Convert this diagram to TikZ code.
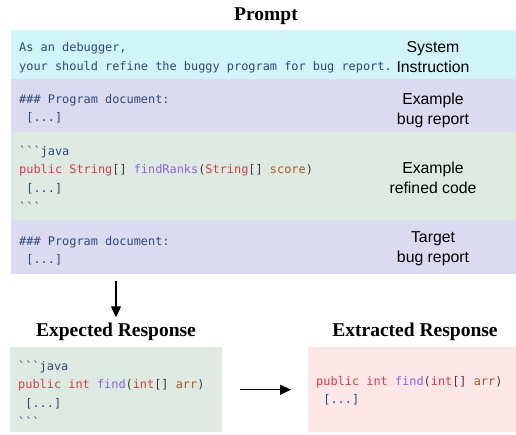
\documentclass[tikz,border=0pt]{standalone}
\usepackage{fontspec}
\setmainfont{Liberation Serif}
\setsansfont{Liberation Sans}
\setmonofont{DejaVu Sans Mono}
\usetikzlibrary{positioning,arrows.meta}

\definecolor{sysfill}{RGB}{208,244,247}
\definecolor{docfill}{RGB}{220,218,240}
\definecolor{codefill}{RGB}{222,234,225}
\definecolor{outfill}{RGB}{253,230,230}
\definecolor{codeblue}{RGB}{46,72,122}
\definecolor{kwred}{RGB}{214,58,74}
\definecolor{fnpurple}{RGB}{138,99,232}
\definecolor{prmbrown}{RGB}{168,88,31}
\definecolor{brkgray}{RGB}{60,60,60}

\newcommand{\kwd}[1]{\textcolor{kwred}{#1}}
\newcommand{\fnc}[1]{\textcolor{fnpurple}{#1}}
\newcommand{\prm}[1]{\textcolor{prmbrown}{#1}}
\newcommand{\brk}[1]{\textcolor{brkgray}{#1}}
\newcommand{\ticks}{\textasciigrave\textasciigrave\textasciigrave}

\begin{document}
\begin{tikzpicture}[x=1pt,y=-1pt,
    band/.style={anchor=north west, inner sep=0pt, minimum width=505pt},
    % first baseline sits 13pt under the node top (strut of 18.6pt lines)
    code/.style={anchor=north west, align=left, inner sep=0pt, text=codeblue,
      font=\fontsize{11.9}{18.6}\selectfont\ttfamily},
    % first baseline sits 14pt under the node top (strut of 20pt lines)
    tag/.style={anchor=north, align=center, inner sep=0pt,
      font=\fontsize{15.8}{20}\selectfont\sffamily},
    title/.style={anchor=base, inner sep=2pt, font=\fontsize{19.5}{22}\selectfont\bfseries},
    arr/.style={-{Triangle[length=11pt,width=10pt]}, line width=1.3pt}]
    \useasboundingbox (0,0) rectangle (516,434);

    % prompt
    \node[title] (prompt) at (266,20) {Prompt};

    \node[band, fill=sysfill, minimum height=49pt] (sys) at (11,30) {};
    \node[band, fill=docfill, minimum height=53pt] (doc) at (11,79) {};
    \node[band, fill=codefill, minimum height=88pt] (ref) at (11,132) {};
    \node[band, fill=docfill, minimum height=54pt] (tgt) at (11,220) {};

    \node[code] (systxt) at (19,38) {\strut As an debugger,\\[0.4pt]your should refine the buggy program for bug report.};
    \node[tag] (systag) at (433,38.5) {\strut System\\Instruction};

    \node[code] (doctxt) at (19,90) {\strut\#\#\# Program document:\\~[...]};
    \node[tag] (doctag) at (433,90) {\strut Example\\bug report};

    \node[code] (reftxt) at (19,142) {\strut\ticks java\\
      \kwd{public} \kwd{String}\brk{[]} \fnc{findRanks}\brk{(}\kwd{String}\brk{[]} \prm{score}\brk{)}\\
      ~[...]\\
      \ticks};
    \node[tag] (reftag) at (433,159) {\strut Example\\refined code};

    \node[code] (tgttxt) at (19,232) {\strut\#\#\# Program document:\\~[...]};
    \node[tag] (tgttag) at (433,228) {\strut Target\\bug report};

    % responses
    \node[title] (expt) at (116,336) {Expected Response};
    \node[title] (extt) at (415,336) {Extracted Response};

    \node[anchor=north west, inner sep=0pt, minimum width=212pt, minimum height=85pt,
      fill=codefill] (exp) at (10,347) {};
    \node[anchor=north west, inner sep=0pt, minimum width=208pt, minimum height=85pt,
      fill=outfill] (ext) at (308,347) {};

    \node[code] (exptxt) at (18,357) {\strut\ticks java\\
      \kwd{public} \kwd{int} \fnc{find}\brk{(}\kwd{int}\brk{[]} \prm{arr}\brk{)}\\
      ~[...]\\
      \ticks};
    \node[code] (exttxt) at (316,372) {\strut\kwd{public} \kwd{int} \fnc{find}\brk{(}\kwd{int}\brk{[]} \prm{arr}\brk{)}\\
      ~[...]};

    \draw[arr, shorten <=7pt, shorten >=3pt] (tgt.south -| expt) -- (expt.north);
    \draw[arr, shorten <=18pt, shorten >=17pt] (exp.east) -- (ext.west);
\end{tikzpicture}
\end{document}
